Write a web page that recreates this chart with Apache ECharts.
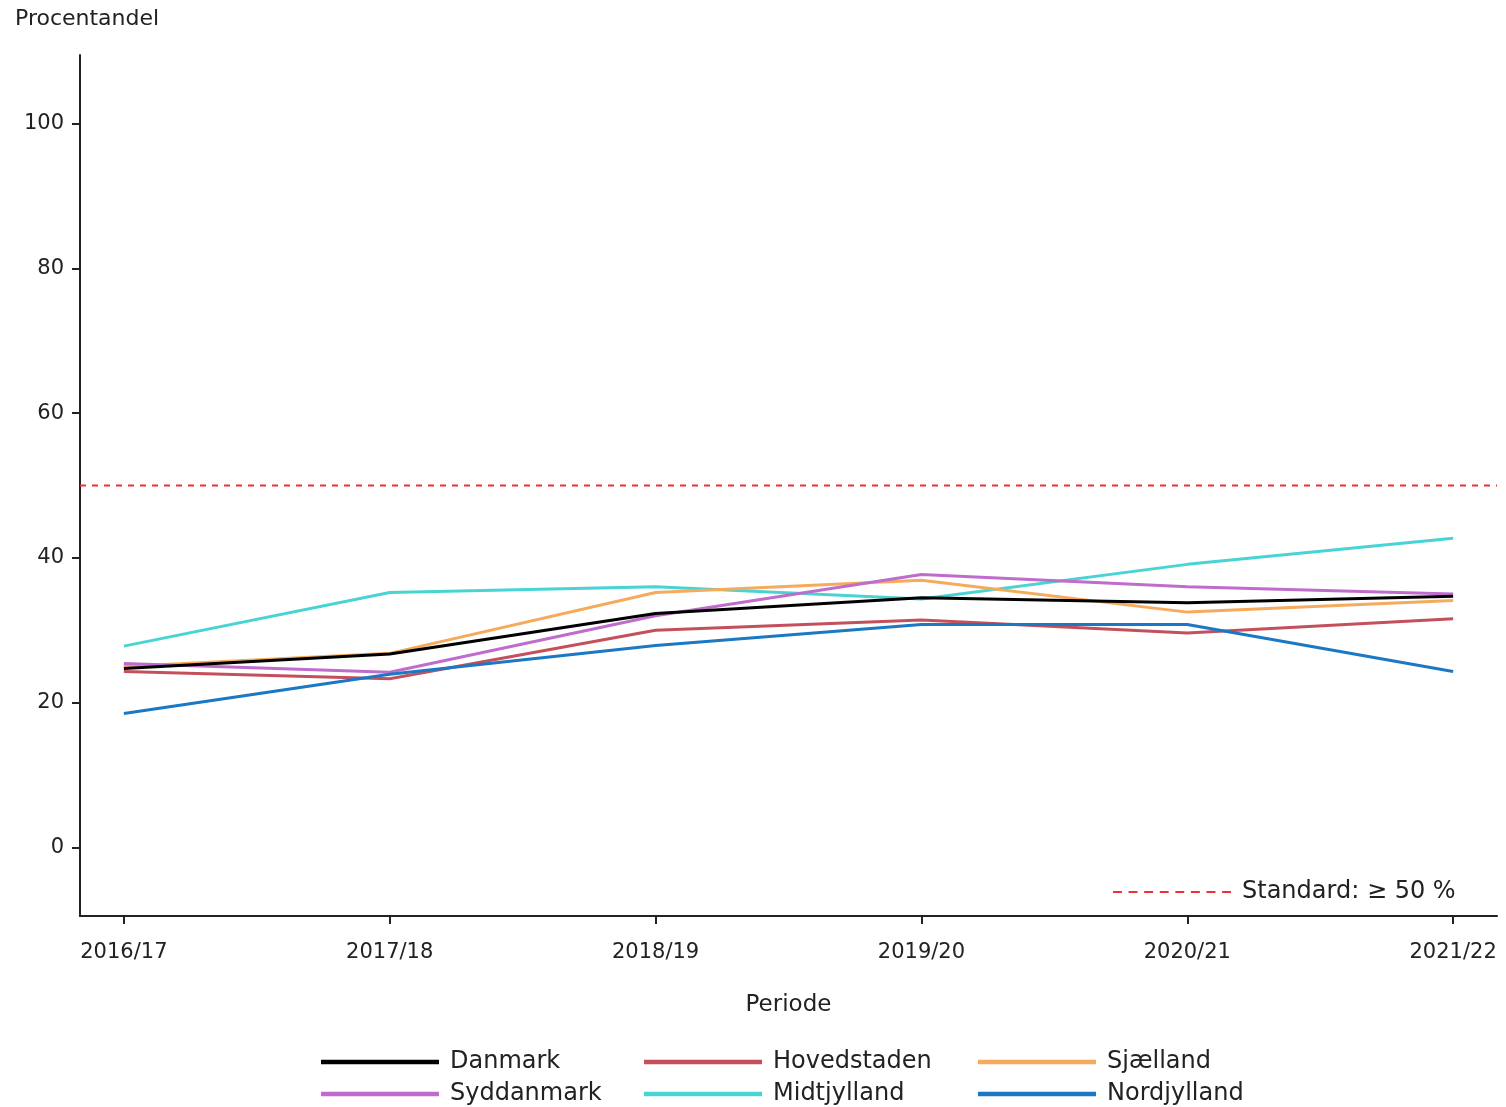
<!DOCTYPE html>
<html lang="da">
<head>
<meta charset="UTF-8">
<title>Procentandel</title>
<script src="https://cdn.jsdelivr.net/npm/echarts@6.0.0/dist/echarts.min.js"></script>
</head>
<body style="margin:0">
<div id="main" style="width:1506px;height:1107px;"></div>
<script>
const categories = ['2016/17', '2017/18', '2018/19', '2019/20', '2020/21', '2021/22'];
const danmark = [24.7, 26.7, 32.3, 34.5, 33.8, 34.7];
const hovedstaden = [24.3, 23.3, 30.0, 31.4, 29.6, 31.6];
const sjaelland = [25.0, 26.8, 35.2, 36.9, 32.5, 34.1];
const syddanmark = [25.4, 24.2, 32.0, 37.7, 36.0, 35.0];
const midtjylland = [27.8, 35.2, 36.0, 34.3, 39.1, 42.7];
const nordjylland = [18.5, 23.9, 27.9, 30.8, 30.8, 24.3];
const yTicks = [0, 20, 40, 60, 80, 100];
const standard = 50;

const xMin = -0.165, xMax = 5.165;
const font = 'DejaVu Sans';

function line(name, values, color) {
  return {
    name: name, type: 'line', symbol: 'none',
    lineStyle: { color: color, width: 3 }, itemStyle: { color: color },
    data: values.map((v, i) => [i, v])
  };
}

function legendItem(name, left, top) {
  return {
    left: left, top: top, itemWidth: 118, itemHeight: 14, data: [name],
    icon: 'path://M0,5.5 L100,5.5 L100,9.5 L0,9.5 Z',
    textStyle: { fontFamily: font, fontSize: 24, color: '#222', padding: [0, 0, 0, 6] }
  };
}

const options = {
  animation: false,
  textStyle: { fontFamily: font },
  grid: { left: 80, right: 9, top: 55, bottom: 191 },
  graphic: [
    { type: 'text', left: 15, top: 8, style: { text: 'Procentandel', font: '22px "DejaVu Sans"', fill: '#222' } }
  ],
  xAxis: {
    type: 'value', min: xMin, max: xMax,
    name: 'Periode', nameLocation: 'middle', nameGap: 78,
    nameTextStyle: { fontFamily: font, fontSize: 23, color: '#222' },
    splitLine: { show: false },
    axisLine: { onZero: false, lineStyle: { color: '#222', width: 2 } },
    axisTick: { customValues: [0, 1, 2, 3, 4, 5], length: 8, lineStyle: { color: '#222', width: 2 } },
    axisLabel: { customValues: [0, 1, 2, 3, 4, 5], formatter: v => categories[Math.round(v)], fontSize: 21, color: '#222', margin: 26 }
  },
  yAxis: {
    type: 'value', min: -9.5, max: 109.5,
    splitLine: { show: false },
    axisLine: { show: true, onZero: false, lineStyle: { color: '#222', width: 2 } },
    axisTick: { show: true, customValues: yTicks, length: 8, lineStyle: { color: '#222', width: 2 } },
    axisLabel: { customValues: yTicks, fontSize: 21, color: '#222', margin: 16 }
  },
  legend: [
    legendItem('Danmark', 316, 1045),
    legendItem('Syddanmark', 316, 1077),
    legendItem('Hovedstaden', 639, 1045),
    legendItem('Midtjylland', 639, 1077),
    legendItem('Sjælland', 973, 1045),
    legendItem('Nordjylland', 973, 1077),
    { left: 1108, top: 875, itemWidth: 118, itemHeight: 14, data: ['Standard: ≥ 50 %'],
      icon: 'path://M0,6 L8,6 L8,8 L0,8 Z M14,6 L22,6 L22,8 L14,8 Z M28,6 L36,6 L36,8 L28,8 Z M42,6 L50,6 L50,8 L42,8 Z M56,6 L64,6 L64,8 L56,8 Z M70,6 L78,6 L78,8 L70,8 Z M84,6 L92,6 L92,8 L84,8 Z M98,6 L106,6 L106,8 L98,8 Z',
      textStyle: { fontFamily: font, fontSize: 24, color: '#222', padding: [0, 0, 0, 6] } }
  ],
  series: [
    {
      name: 'Standard: ≥ 50 %', type: 'line', symbol: 'none',
      lineStyle: { color: '#f03030', width: 2, type: [6, 6] }, itemStyle: { color: '#f03030' },
      data: [[xMin, standard], [xMax, standard]]
    },
    line('Midtjylland', midtjylland, '#48d4d4'),
    line('Sjælland', sjaelland, '#f5aa5c'),
    line('Hovedstaden', hovedstaden, '#c4505c'),
    line('Syddanmark', syddanmark, '#c06ccc'),
    line('Danmark', danmark, '#000000'),
    line('Nordjylland', nordjylland, '#1a78c4')
  ]
};

const myChart = echarts.init(document.getElementById('main'));
myChart.setOption(options);
</script>
</body>
</html>
